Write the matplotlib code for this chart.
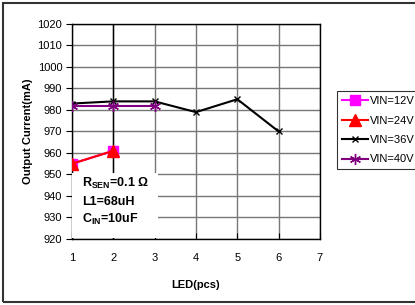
import matplotlib.pyplot as plt
from matplotlib.patches import Rectangle

plt.rcParams['font.family'] = ['Liberation Sans', 'DejaVu Sans']
plt.rcParams['mathtext.fontset'] = 'custom'
plt.rcParams['mathtext.rm'] = 'Liberation Sans'
plt.rcParams['mathtext.bf'] = 'Liberation Sans:bold'

# data
led_12v = [1, 2]
cur_12v = [955, 961]
led_24v = [1, 2]
cur_24v = [955, 961]
led_36v = [1, 2, 3, 4, 5, 6]
cur_36v = [983, 984, 984, 979, 985, 970]
led_40v = [1, 2, 3]
cur_40v = [982, 982, 982]

x_ticks = [1, 2, 3, 4, 5, 6, 7]
y_ticks = list(range(920, 1021, 10))

fig = plt.figure(figsize=(4.15, 3.05), dpi=100)
ax = fig.add_axes([0.1735, 0.2164, 0.5975, 0.7050])

# outer chart frame
fig.patches.append(Rectangle((3 / 415, 3 / 305), 1.2, 1 - 6 / 305,
                             transform=fig.transFigure, fill=False,
                             edgecolor='#333333', linewidth=1.5))

ax.plot(led_12v, cur_12v, color='#ff00ff', marker='s', markersize=7,
        linewidth=1.5, label='VIN=12V', zorder=4)
ax.plot(led_24v, cur_24v, color='#ff0000', marker='^', markersize=8,
        linewidth=1.5, label='VIN=24V', zorder=5)
ax.plot(led_36v, cur_36v, color='black', marker='x', markersize=5,
        markeredgewidth=1, linewidth=1.5, label='VIN=36V', zorder=4)
ax.plot(led_40v, cur_40v, color='#800080', marker=(6, 2, 0), markersize=8,
        markeredgewidth=1, linewidth=1.5, label='VIN=40V', zorder=4)

ax.set_xlim(1, 7)
ax.set_ylim(920, 1020)
ax.set_xticks(x_ticks)
ax.set_yticks(y_ticks)
ax.grid(True, color='#777777', linewidth=1)
ax.set_axisbelow(True)
ax.axvline(2, color='black', linewidth=1, zorder=1)

for s in ax.spines.values():
    s.set_color('black')
    s.set_linewidth(1)

ax.tick_params(axis='y', direction='out', length=4, labelsize=8, pad=3)
ax.tick_params(axis='x', direction='in', length=4, labelsize=8, pad=10)

ax.set_xlabel('LED(pcs)', fontsize=8, fontweight='bold', labelpad=12)
ax.set_ylabel('Output Current(mA)', fontsize=8, fontweight='bold', labelpad=3)

# condition box (white, hides grid)
ax.add_patch(Rectangle((1.0, 920.3), 2.07, 30.5, facecolor='white',
                       edgecolor='none', zorder=3))
ax.text(1.25, 946, r'$\mathbf{R_{SEN}}$=0.1 $\mathbf{\Omega}$', fontsize=9,
        fontweight='bold', va='center', zorder=6)
ax.text(1.25, 937.2, 'L1=68uH', fontsize=9, fontweight='bold', va='center', zorder=6)
ax.text(1.25, 929.3, r'$\mathbf{C_{IN}}$=10uF', fontsize=9, fontweight='bold',
        va='center', zorder=6)

leg = ax.legend(loc='upper left', bbox_to_anchor=(1.068, 0.688), fontsize=8,
                frameon=True, fancybox=False, edgecolor='black', numpoints=1,
                handlelength=2.4, handletextpad=0.15, borderpad=0.45,
                labelspacing=0.85, borderaxespad=0)
leg.get_frame().set_linewidth(0.8)

fig.savefig('out.png', dpi=100)
